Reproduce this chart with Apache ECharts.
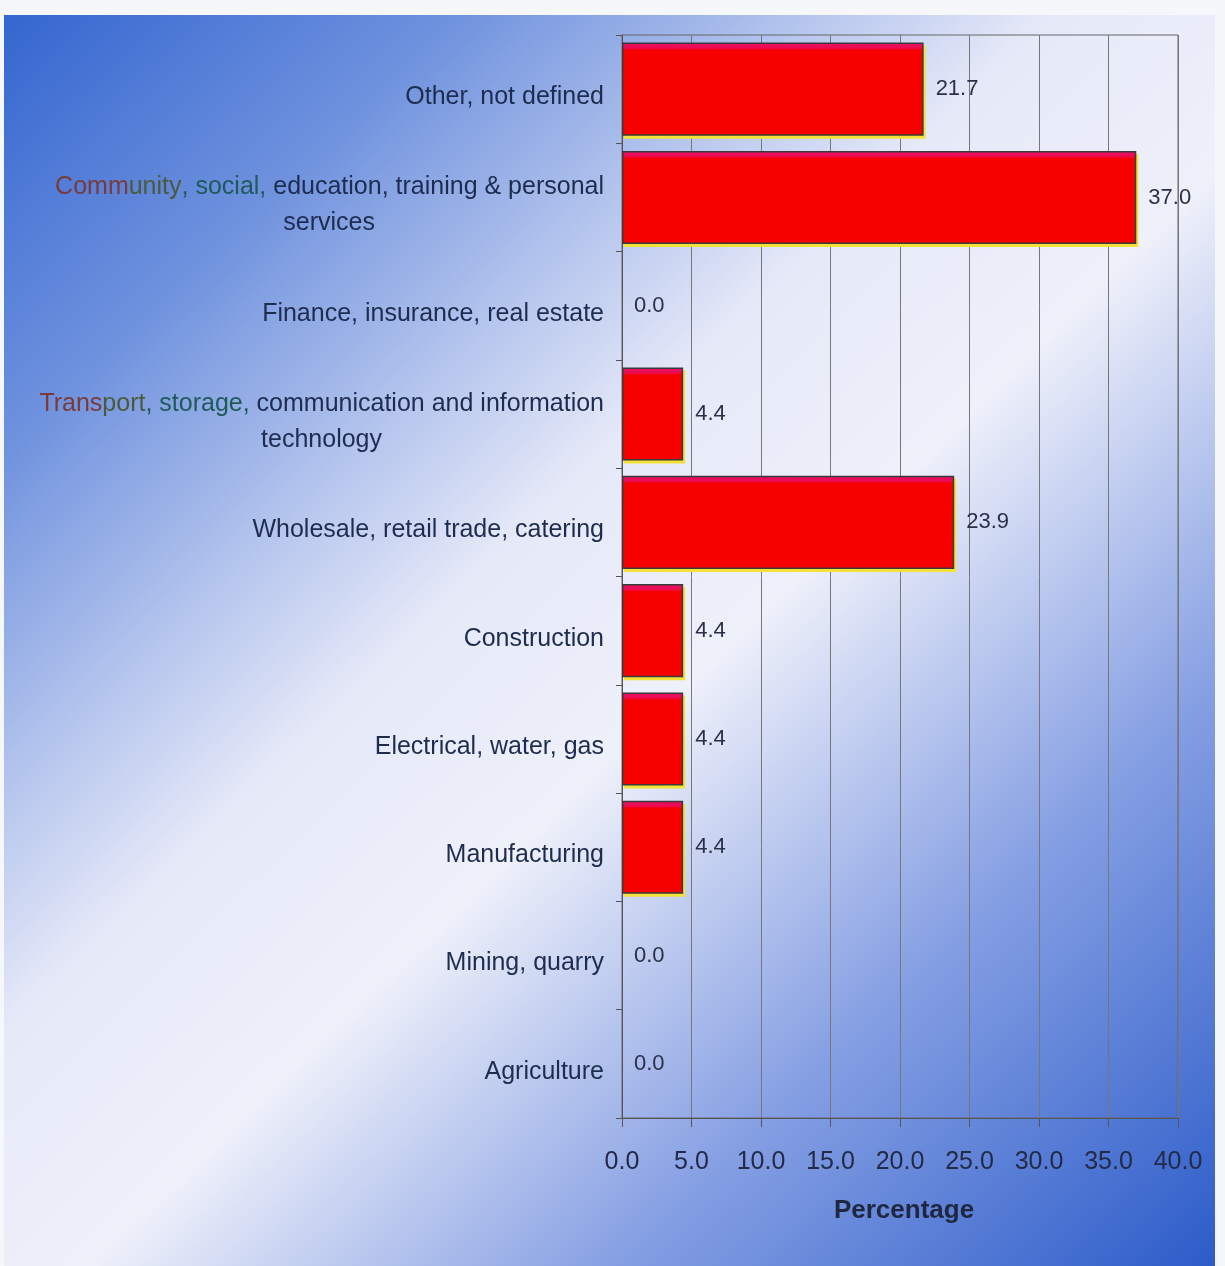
<!DOCTYPE html>
<html>
<head>
<meta charset="utf-8">
<script src="https://cdn.jsdelivr.net/npm/echarts@6/dist/echarts.min.js"></script>
<style>
html,body{margin:0;padding:0;background:#f6f7fb;}
#chart{width:1225px;height:1266px;}
</style>
</head>
<body>
<div id="chart"></div>
<script>
const categories = [
  "Agriculture",
  "Mining, quarry",
  "Manufacturing",
  "Electrical, water, gas",
  "Construction",
  "Wholesale, retail trade, catering",
  "Transport, storage, communication and information technology",
  "Finance, insurance, real estate",
  "Community, social, education, training & personal services",
  "Other, not defined"
];
const values = [0.0, 0.0, 4.4, 4.4, 4.4, 23.9, 4.4, 0.0, 37.0, 21.7];
const xTicks = [0, 5, 10, 15, 20, 25, 30, 35, 40];
const axisTitle = "Percentage";

const chart = echarts.init(document.getElementById('chart'), null, {renderer: 'canvas'});

const labelMap = {
  "Community, social, education, training & personal services":
    "{r|Comm}{o|unity}{g|, social,}{n| education, training & personal}\n{n|services}{sp1|}",
  "Transport, storage, communication and information technology":
    "{r|Trans}{o|port}{g|, storage,}{n| communication and information}\n{n|technology}{sp2|}"
};

const FONT = 'Liberation Sans';
const LBL = 25;
const GAP = 0.14;
const rs = (c) => ({fontFamily: FONT, fontSize: LBL, color: c, lineHeight: 36});

const option = {
  backgroundColor: '#f6f7fb',
  graphic: [{
    type: 'rect',
    z: -100,
    silent: true,
    shape: {x: 4, y: 15, width: 1211, height: 1251},
    style: {
      fill: new echarts.graphic.LinearGradient(0, 0, 1, 1, [
        {offset: 0, color: '#3466d0'},
        {offset: 0.18, color: '#6f92de'},
        {offset: 0.42, color: '#e6e9f8'},
        {offset: 0.55, color: '#eef0fa'},
        {offset: 0.76, color: '#859fe3'},
        {offset: 1, color: '#2c5cc9'}
      ])
    }
  }],
  grid: {
    left: 622, right: 47, top: 35, bottom: 148,
    show: true, borderColor: '#666', borderWidth: 1, backgroundColor: 'transparent'
  },
  xAxis: {
    type: 'value',
    min: 0, max: 40, interval: 5,
    name: axisTitle,
    nameLocation: 'middle',
    nameGap: 80,
    nameTextStyle: {fontFamily: FONT, fontSize: 26, fontWeight: 'bold', color: '#1f2740', padding: [0, 0, 0, 8]},
    axisLine: {show: true, lineStyle: {color: '#555', width: 1}},
    axisTick: {show: true, length: 9, lineStyle: {color: '#555'}},
    axisLabel: {
      margin: 32,
      fontFamily: FONT, fontSize: 25, color: '#222a45',
      formatter: v => xTicks.includes(v) ? v.toFixed(1) : ''
    },
    splitLine: {show: true, lineStyle: {color: '#777', width: 1}}
  },
  yAxis: {
    type: 'category',
    data: categories,
    axisLine: {show: true, lineStyle: {color: '#555', width: 1}},
    axisTick: {show: true, length: 6, lineStyle: {color: '#555'}},
    axisLabel: {
      margin: 18,
      padding: [16, 0, 0, 0],
      fontFamily: FONT, fontSize: LBL, color: '#1d2c4f',
      lineHeight: 36,
      formatter: v => labelMap[v] || v,
      rich: {
        r: rs('#7a3a3a'),
        o: rs('#4c5a3c'),
        g: rs('#1f5a5a'),
        n: rs('#1d2c4f'),
        sp1: {width: 229, fontSize: LBL, lineHeight: 36},
        sp2: {width: 222, fontSize: LBL, lineHeight: 36}
      }
    },
    splitLine: {show: false}
  },
  series: [{
    type: 'custom',
    z: 1,
    silent: true,
    data: values.map((v, i) => [v, i]),
    encode: {x: 0, y: 1},
    renderItem: (params, api) => {
      const v = api.value(0);
      if (!v) return null;
      const idx = api.value(1);
      const p0 = api.coord([0, idx]);
      const p1 = api.coord([v, idx]);
      const band = api.size([0, 1])[1];
      const h = band * (1 - GAP);
      return {
        type: 'rect',
        shape: {x: p0[0] + 2, y: p0[1] - h / 2 + 3, width: p1[0] - p0[0], height: h},
        style: {fill: '#f2e23a'}
      };
    }
  }, {
    type: 'bar',
    z: 2,
    data: values.map(v => v === 0
      ? {value: v, itemStyle: {borderWidth: 0}}
      : v),
    barCategoryGap: (GAP * 100) + '%',
    itemStyle: {
      color: new echarts.graphic.LinearGradient(0, 0, 0, 1, [
        {offset: 0, color: '#e8106a'},
        {offset: 0.06, color: '#ec0a50'},
        {offset: 0.08, color: '#f70000'},
        {offset: 1, color: '#f70000'}
      ]),
      borderColor: '#3a3a3a',
      borderWidth: 1.5
    },
    label: {
      show: true,
      position: 'right',
      distance: 12,
      fontFamily: FONT, fontSize: 22, color: '#2b3048',
      formatter: p => p.value.toFixed(1)
    }
  }]
};
chart.setOption(option);
</script>
</body>
</html>
